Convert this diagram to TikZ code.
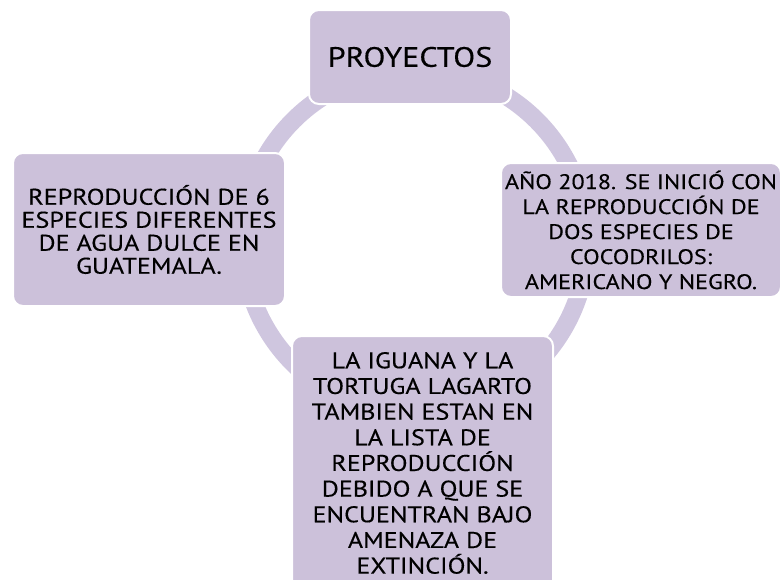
\documentclass[tikz,border=0pt]{standalone}
\usepackage{fontspec}
\setmainfont{PT Sans}[FakeStretch=1.15, FakeBold=0.3]
\usepackage{xcolor}
\usetikzlibrary{positioning}
\definecolor{boxfill}{RGB}{204,193,218}
\definecolor{ringfill}{RGB}{207,198,223}

\begin{document}
\begin{tikzpicture}[
    x=0.75pt, y=-0.75pt,
    cyclebox/.style={rectangle, draw=white, line width=1.5pt, fill=boxfill, rounded corners=7.5pt, align=center, inner sep=0pt, font=\fontsize{17}{18.75}\selectfont},
    ring/.style={draw=ringfill, line width=13.5pt},
  ]
  \clip (0,0) rectangle (782,579);

  % Ring behind the boxes
  \coordinate (hub) at (415,242);
  \draw[ring] (hub) circle[radius=129pt];

  % Cycle boxes
  \node[cyclebox, minimum width=151.5pt, minimum height=70.5pt, font=\fontsize{21}{24}\selectfont] (proyectos) at (410,57) {PROYECTOS};
  \node[cyclebox, minimum width=210pt, minimum height=100.5pt, font=\fontsize{15.75}{18.75}\selectfont] (cocodrilos) at (641,230) {AÑO 2018. SE INICIÓ CON\\LA REPRODUCCIÓN DE\\DOS ESPECIES DE\\COCODRILOS:\\AMERICANO Y NEGRO.};
  \node[cyclebox, minimum width=195.75pt, minimum height=190.5pt, font=\fontsize{17}{19.25}\selectfont] (iguana) at (422.5,463) {LA IGUANA Y LA\\TORTUGA LAGARTO\\TAMBIEN ESTAN EN\\LA LISTA DE\\REPRODUCCIÓN\\DEBIDO A QUE SE\\ENCUENTRAN BAJO\\AMENAZA DE\\EXTINCIÓN.};
  \node[cyclebox, minimum width=204pt, minimum height=114.75pt, font=\fontsize{17}{17.25}\selectfont] (aguadulce) at (149,229.5) {REPRODUCCIÓN DE 6\\ESPECIES DIFERENTES\\DE AGUA DULCE EN\\GUATEMALA.};
\end{tikzpicture}
\end{document}
